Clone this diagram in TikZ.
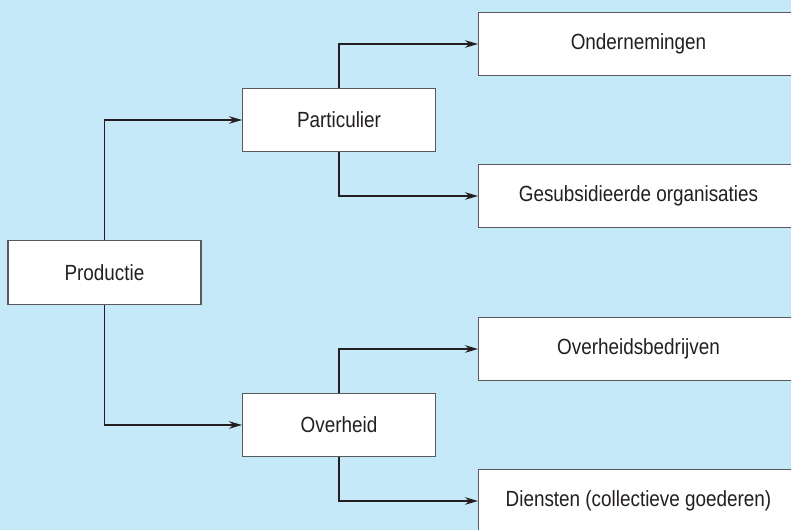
\documentclass[tikz,border=0pt]{standalone}
\usepackage{fontspec}
\setmainfont{Liberation Sans}[FakeStretch=0.86]
\usepackage{xcolor}
\usetikzlibrary{arrows.meta, positioning}
\definecolor{skyback}{HTML}{C6E9F9}
\definecolor{inkline}{HTML}{231F20}
\definecolor{boxedge}{HTML}{58595B}

\begin{document}
\begin{tikzpicture}[
    x=0.02cm, y=-0.02cm,
    >={Stealth[length=2.6mm, width=1.5mm]},
    box/.style={rectangle, draw=boxedge, fill=white, line width=0.6pt,
                minimum width=3.86cm, minimum height=1.27cm,
                font=\fontsize{12.5}{14}\selectfont, text=inkline},
    widebox/.style={box, minimum width=6.4cm},
    flow/.style={->, draw=inkline, line width=0.8pt},
]
    % ── Background ────────────────────────────────
    \fill[skyback] (0,0) rectangle (791,530);
    \useasboundingbox (0,0) rectangle (791,530);
    \clip (0,0) rectangle (791,530);

    % ── Boxes ─────────────────────────────────────
    \node[box] (prod) at (104.5,272.5) {Productie};
    \node[box] (part) at (339,120) {Particulier};
    \node[box] (over) at (339,425) {Overheid};

    \node[widebox, anchor=west] (onder) at (478,44) {Ondernemingen};
    \node[widebox, anchor=west] (subs)  at (478,196) {Gesubsidieerde organisaties};
    \node[widebox, anchor=west] (obedr) at (478,349) {Overheidsbedrijven};
    \node[widebox, anchor=west] (dienst) at (478,501) {Diensten (collectieve goederen)};

    % ── Connectors ────────────────────────────────
    \draw[flow] (prod.north) |- (part.west);
    \draw[flow] (prod.south) |- (over.west);
    \draw[flow] (part.north) |- (onder.west);
    \draw[flow] (part.south) |- (subs.west);
    \draw[flow] (over.north) |- (obedr.west);
    \draw[flow] (over.south) |- (dienst.west);
\end{tikzpicture}
\end{document}
